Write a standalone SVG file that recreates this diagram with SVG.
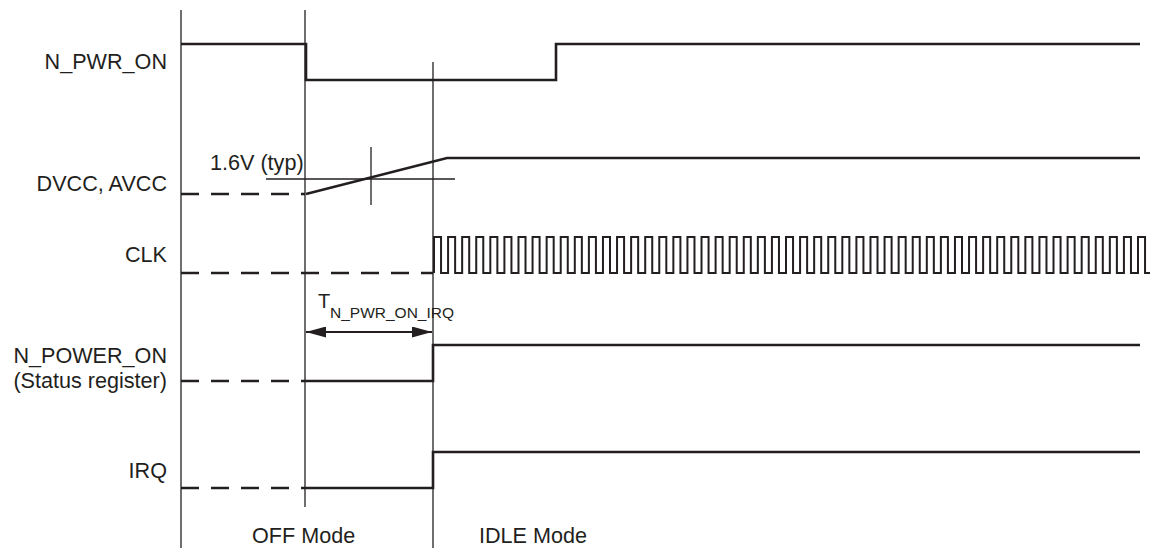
<svg xmlns="http://www.w3.org/2000/svg" width="1150" height="548" viewBox="0 0 1150 548">
<style>
text{font-family:"Liberation Sans",Arial,sans-serif;font-size:21.6px;fill:#231f20}
.lbl{text-anchor:end}
.grid{stroke:#231f20;stroke-width:1.3;fill:none}
.sig{stroke:#231f20;stroke-width:2.6;fill:none}
.clk{stroke:#231f20;stroke-width:2;fill:none}
.dash{stroke:#231f20;stroke-width:2.6;fill:none;stroke-dasharray:18 12}
.thin{stroke:#231f20;stroke-width:1.3;fill:none}
.arr{stroke:#231f20;stroke-width:1.8;fill:none}
</style>
<defs>
<marker id="ah" viewBox="0 0 20 11" refX="20" refY="5.5" markerWidth="20" markerHeight="11" markerUnits="userSpaceOnUse" orient="auto-start-reverse">
<path d="M0,0 L20,5.5 L0,11 Z" fill="#231f20"/>
</marker>
</defs>
<g id="gridlines">
<line class="grid" x1="181" y1="10" x2="181" y2="548"/>
<line class="grid" x1="305" y1="10" x2="305" y2="507"/>
<line class="grid" x1="433" y1="62" x2="433" y2="548"/>
</g>
<g id="n_pwr_on">
<text class="lbl" x="167" y="69">N_PWR_ON</text>
<path class="sig" d="M181,44 H306 V80 H556 V44 H1140"/>
</g>
<g id="dvcc">
<text class="lbl" x="167" y="191">DVCC, AVCC</text>
<line class="dash" x1="181" y1="194" x2="305" y2="194"/>
<path class="sig" d="M306,194 L447,158 H1140"/>
<line class="thin" x1="266" y1="179" x2="455" y2="179"/>
<line class="thin" x1="371" y1="147" x2="371" y2="205"/>
<text x="210" y="170">1.6V (typ)</text>
</g>
<g id="clk">
<text class="lbl" x="167" y="262">CLK</text>
<line class="dash" x1="181" y1="273" x2="433" y2="273"/>
<path class="clk" d="M434,273 v-36 h7.04 v36 h7.04 v-36 h7.04 v36 h7.04 v-36 h7.04 v36 h7.04 v-36 h7.04 v36 h7.04 v-36 h7.04 v36 h7.04 v-36 h7.04 v36 h7.04 v-36 h7.04 v36 h7.04 v-36 h7.04 v36 h7.04 v-36 h7.04 v36 h7.04 v-36 h7.04 v36 h7.04 v-36 h7.04 v36 h7.04 v-36 h7.04 v36 h7.04 v-36 h7.04 v36 h7.04 v-36 h7.04 v36 h7.04 v-36 h7.04 v36 h7.04 v-36 h7.04 v36 h7.04 v-36 h7.04 v36 h7.04 v-36 h7.04 v36 h7.04 v-36 h7.04 v36 h7.04 v-36 h7.04 v36 h7.04 v-36 h7.04 v36 h7.04 v-36 h7.04 v36 h7.04 v-36 h7.04 v36 h7.04 v-36 h7.04 v36 h7.04 v-36 h7.04 v36 h7.04 v-36 h7.04 v36 h7.04 v-36 h7.04 v36 h7.04 v-36 h7.04 v36 h7.04 v-36 h7.04 v36 h7.04 v-36 h7.04 v36 h7.04 v-36 h7.04 v36 h7.04 v-36 h7.04 v36 h7.04 v-36 h7.04 v36 h7.04 v-36 h7.04 v36 h7.04 v-36 h7.04 v36 h7.04 v-36 h7.04 v36 h7.04 v-36 h7.04 v36 h7.04 v-36 h7.04 v36 h7.04 v-36 h7.04 v36 h7.04 v-36 h7.04 v36 h7.04 v-36 h7.04 v36 h7.04 v-36 h7.04 v36 h7.04 v-36 h7.04 v36 h7.04 v-36 h7.04 v36 h7.04 v-36 h7.04 v36 h7.04 v-36 h7.04 v36 h7.04 v-36 h7.04 v36 h7.04 v-36 h7.04 v36 h7.04 v-36 h7.04 v36 h7.04 v-36 h7.04 v36 h7.04 v-36 h7.04 v36 h7.04 v-36 h7.04 v36 h7.04 v-36 h3"/>
</g>
<g id="timing">
<text x="318" y="308" style="font-size:20px">T<tspan x="330" y="318" style="font-size:15.5px">N_PWR_ON_IRQ</tspan></text>
<line class="arr" x1="306" y1="332" x2="432" y2="332" marker-start="url(#ah)" marker-end="url(#ah)"/>
</g>
<g id="n_power_on">
<text class="lbl" x="167" y="363">N_POWER_ON</text>
<text class="lbl" x="167" y="388">(Status register)</text>
<line class="dash" x1="181" y1="381" x2="305" y2="381"/>
<path class="sig" d="M305,381 H433 V345 H1140"/>
</g>
<g id="irq">
<text class="lbl" x="167" y="478">IRQ</text>
<line class="dash" x1="181" y1="488" x2="305" y2="488"/>
<path class="sig" d="M305,488 H433 V452 H1140"/>
</g>
<g id="modes">
<text x="252" y="543">OFF Mode</text>
<text x="479" y="543">IDLE Mode</text>
</g>
</svg>
